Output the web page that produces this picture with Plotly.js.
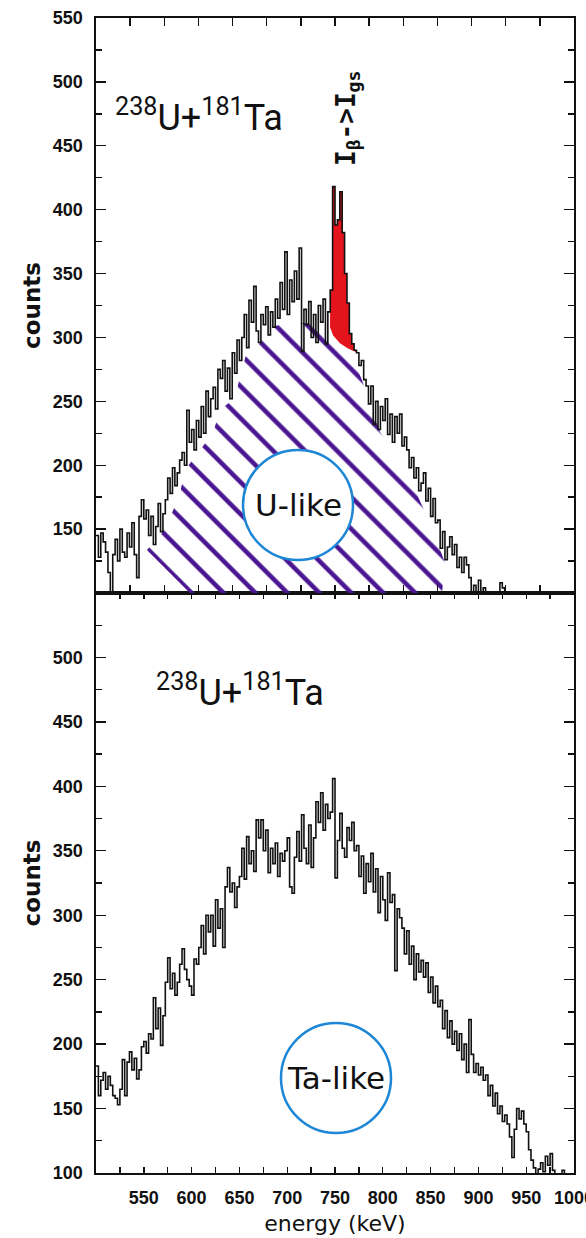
<!DOCTYPE html>
<html><head><meta charset="utf-8">
<script src="https://cdn.plot.ly/plotly-3.0.1.min.js"></script>
<style>html,body{margin:0;padding:0;background:#fff;}#chart{width:586px;height:1238px;}</style>
</head><body><div id="chart"></div>
<script>
// ---- data ----
const binStartKeV = 500;
const binWidthKeV = 2.5;

// upper panel: U-like spectrum, counts per 2.5 keV bin from 500 keV
const uLikeCounts = [
 145,128,147,140,132,116,100,130,142,125, 150,132,128,147,136,155,130,112,160,173,
 158,165,145,160,138,152,170,148,162,173, 190,178,198,184,194,204,210,200,243,218,
 228,212,235,222,246,225,258,238,252,261, 244,275,268,282,258,276,252,288,272,298,
 282,300,318,292,329,312,340,305,296,318, 310,324,302,320,308,330,315,343,322,367,
 318,345,328,352,330,370,289,322,310,328, 300,318,296,325,312,330,295,320,337,418,
 388,392,414,382,350,327,303,295,290,288, 278,282,267,262,248,262,232,250,228,246,
 235,252,224,240,218,238,225,240,215,222, 212,198,206,190,198,180,186,194,172,182,
 160,174,155,157,135,148,126,136,144,130, 138,120,128,116,128,122,112,100,106,96,
 110,100,104,94,90,96,92,88,94,108, 104,98,90
];

// lower panel: Ta-like spectrum, counts per 2.5 keV bin from 500 keV
const taLikeCounts = [
 183,160,172,178,165,175,168,160,158,153, 165,188,160,186,194,180,189,173,180,198,
 202,193,208,204,236,212,228,199,222,248, 267,243,255,238,248,262,274,258,250,245,
 238,266,262,275,292,270,300,287,300,276, 312,290,305,275,322,337,318,325,306,322,
 330,352,328,361,340,350,334,374,360,374, 350,366,333,352,340,356,330,348,342,350,
 360,322,317,345,365,342,378,352,340,370, 337,360,388,372,395,366,386,375,380,406,
 329,358,379,352,345,368,358,372,350,354, 330,346,317,340,326,348,318,336,302,330,
 312,296,333,310,316,257,305,298,290,270, 288,262,276,250,270,256,265,252,263,240,
 252,232,245,229,234,212,226,205,218,200, 210,195,208,188,200,178,219,192,178,185,
 176,182,172,176,160,168,152,162,146,152, 140,145,138,128,112,134,150,142,148,138,
 132,118,110,104,98,103,108,101,113,106, 115,102,97,92,96,102,94,90,88,86
];

// red-filled I_beta -> I_gs peak: bins and the drawn background curve under it
const redPeakFirstBin = 98;
const redPeakLastBin = 108;
const redBaseKeV    = [744.8, 748.0, 755.2, 763.6, 773.0];
const redBaseCounts = [308.0, 301.6, 295.4, 291.4, 288.3];

// outline of the purple hatched "U-like" region (upper panel)
const hatchKeV    = [598.3,553.3,569.0,579.5,587.9,593.1,608.8,622.4,629.7,645.4,650.6,656.9,671.6,679.9,702.9,744.8,765.7,779.3,797.1,833.7,851.5,865.1,861.9];
const hatchCounts = [100,133.7,147,162.6,178.3,196.3,211.9,225.2,243.2,252.6,269.0,286.3,295.7,307.4,312.1,309.7,290.2,264.3,226.0,180.6,150.9,123.5,100];

// circles drawn around the labels (energy / counts ranges)
const uCircleKeV = [653.8, 768.8];   const uCircleCounts = [125.8, 211.9];
const taCircleKeV = [693.5, 808.6];  const taCircleCounts = [131.0, 216.4];

// axis ticks
const energyTickVals = [550,600,650,700,750,800,850,900,950,1000];
const energyMinorVals = [525,575,625,675,725,775,825,875,925,975];
const upperCountTicks = [150,200,250,300,350,400,450,500,550];
const lowerCountTicks = [100,150,200,250,300,350,400,450,500];
const countMinorTicks = [125,175,225,275,325,375,425,475,525];
const upperTopTickIntervals = 14;

// ---- build step arrays ----
function stepXY(counts, from, to) {
  const xs = [], ys = [];
  for (let i = from; i <= to; i++) { xs.push(binStartKeV + i * binWidthKeV); ys.push(counts[i]); }
  xs.push(binStartKeV + (to + 1) * binWidthKeV); ys.push(counts[to]);
  return {x: xs, y: ys};
}
const uStep = stepXY(uLikeCounts, 0, uLikeCounts.length - 1);
const taStep = stepXY(taLikeCounts, 0, taLikeCounts.length - 1);
const redStep = stepXY(uLikeCounts, redPeakFirstBin, redPeakLastBin);

const topTicks = [];
for (let k = 1; k < upperTopTickIntervals; k++) topTicks.push(500 + k * 500 / upperTopTickIntervals);

const purple = '#4a1590';
const blue = '#1d87d6';
const tickFont = {family: 'Liberation Sans, Arial, sans-serif', size: 18, color: '#111', weight: 'bold'};

const traces = [
  {x: hatchKeV, y: hatchCounts, xaxis: 'x2', yaxis: 'y2', mode: 'lines', fill: 'toself',
   fillcolor: 'rgba(0,0,0,0)', line: {width: 0, color: 'rgba(0,0,0,0)'},
   fillpattern: {shape: '\\', fgcolor: purple, fgopacity: 1, bgcolor: 'rgba(0,0,0,0)', size: 22.6, solidity: 0.2, fillmode: 'overlay'},
   hoverinfo: 'skip', showlegend: false},
  {x: redBaseKeV, y: redBaseCounts, xaxis: 'x2', yaxis: 'y2', mode: 'lines',
   line: {width: 0, color: 'rgba(0,0,0,0)'}, showlegend: false, hoverinfo: 'skip'},
  {x: redStep.x, y: redStep.y, xaxis: 'x2', yaxis: 'y2', mode: 'lines', line: {shape: 'hv', width: 0, color: '#e3141c'},
   fill: 'tonexty', fillcolor: '#e3141c', showlegend: false, hoverinfo: 'skip'},
  {x: uStep.x, y: uStep.y, xaxis: 'x2', yaxis: 'y2', mode: 'lines',
   line: {shape: 'hv', width: 1.6, color: '#111'}, showlegend: false},
  {x: taStep.x, y: taStep.y, xaxis: 'x', yaxis: 'y', mode: 'lines',
   line: {shape: 'hv', width: 1.6, color: '#111'}, showlegend: false}
];

const frame = {showline: true, linecolor: '#111', linewidth: 1.6, mirror: 'ticks', ticks: 'inside',
  tickcolor: '#111', tickwidth: 1.4, showgrid: false, zeroline: false};

const split = 580 / 1155;
const layout = {
  width: 586, height: 1238,
  margin: {l: 96, r: 12, t: 18, b: 65},
  paper_bgcolor: '#fff', plot_bgcolor: '#fff',
  showlegend: false,
  xaxis: Object.assign({}, frame, {anchor: 'y', domain: [0, 1], range: [500, 1000],
    tickmode: 'array', tickvals: energyTickVals, ticktext: energyTickVals.map(String), ticklen: 6,
    minor: {tickmode: 'array', tickvals: energyMinorVals, ticks: 'inside', ticklen: 6, tickcolor: '#111', tickwidth: 1.4},
    tickfont: tickFont, ticklabelstandoff: 8, ticklabeloverflow: 'allow',
    title: {text: 'energy (keV)', standoff: 8, font: {family: 'DejaVu Sans, sans-serif', size: 22, color: '#111'}}}),
  yaxis: Object.assign({}, frame, {anchor: 'x', domain: [0, split], range: [100, 550],
    tickmode: 'array', tickvals: lowerCountTicks, ticktext: lowerCountTicks.map(String), ticklen: 10,
    minor: {tickmode: 'array', tickvals: countMinorTicks, ticks: 'inside', ticklen: 6, tickcolor: '#111', tickwidth: 1.4},
    tickfont: tickFont, ticklabelstandoff: 8,
    title: {text: 'counts', standoff: 6, font: {family: 'DejaVu Sans, sans-serif', size: 23, color: '#111', weight: 'bold'}}}),
  xaxis2: Object.assign({}, frame, {anchor: 'y2', domain: [0, 1], range: [500, 1000],
    tickmode: 'array', tickvals: topTicks, showticklabels: false, ticklen: 8}),
  yaxis2: Object.assign({}, frame, {anchor: 'x2', domain: [split, 1], range: [100, 550],
    tickmode: 'array', tickvals: upperCountTicks, ticktext: upperCountTicks.map(String), ticklen: 10,
    minor: {tickmode: 'array', tickvals: countMinorTicks, ticks: 'inside', ticklen: 6, tickcolor: '#111', tickwidth: 1.4},
    tickfont: tickFont, ticklabelstandoff: 8,
    title: {text: 'counts', standoff: 6, font: {family: 'DejaVu Sans, sans-serif', size: 23, color: '#111', weight: 'bold'}}}),
  shapes: [
    {type: 'circle', xref: 'x2', yref: 'y2', x0: uCircleKeV[0], x1: uCircleKeV[1], y0: uCircleCounts[0], y1: uCircleCounts[1],
     fillcolor: '#fff', line: {color: blue, width: 2.5}, layer: 'above'},
    {type: 'circle', xref: 'x', yref: 'y', x0: taCircleKeV[0], x1: taCircleKeV[1], y0: taCircleCounts[0], y1: taCircleCounts[1],
     fillcolor: 'rgba(0,0,0,0)', line: {color: blue, width: 2.5}, layer: 'above'}
  ],
  annotations: [
    {xref: 'x2', yref: 'y2', x: 517.8, y: 474, xanchor: 'left', yanchor: 'middle', showarrow: false,
     text: '<sup>238</sup>U+<sup>181</sup>Ta', font: {family: 'Roboto, sans-serif', size: 36, color: '#111'}},
    {xref: 'x', yref: 'y', x: 560.7, y: 474.7, xanchor: 'left', yanchor: 'middle', showarrow: false,
     text: '<sup>238</sup>U+<sup>181</sup>Ta', font: {family: 'Roboto, sans-serif', size: 36, color: '#111'}},
    {xref: 'x2', yref: 'y2', x: 762.5, y: 471.7, xanchor: 'center', yanchor: 'middle', showarrow: false, textangle: -90,
     text: 'I<sub>β</sub>-&gt;I<sub>gs</sub>', font: {family: 'DejaVu Sans Mono, monospace', size: 26, color: '#111', weight: 'bold'}},
    {xref: 'x2', yref: 'y2', x: (uCircleKeV[0] + uCircleKeV[1]) / 2, y: (uCircleCounts[0] + uCircleCounts[1]) / 2,
     xanchor: 'center', yanchor: 'middle', showarrow: false, text: 'U-like',
     font: {family: 'DejaVu Sans, sans-serif', size: 31, color: '#111'}},
    {xref: 'x', yref: 'y', x: (taCircleKeV[0] + taCircleKeV[1]) / 2, y: (taCircleCounts[0] + taCircleCounts[1]) / 2,
     xanchor: 'center', yanchor: 'middle', showarrow: false, text: 'Ta-like',
     font: {family: 'DejaVu Sans, sans-serif', size: 31, color: '#111'}}
  ]
};

Plotly.newPlot('chart', traces, layout, {staticPlot: true, displayModeBar: false});
</script>
</body></html>
